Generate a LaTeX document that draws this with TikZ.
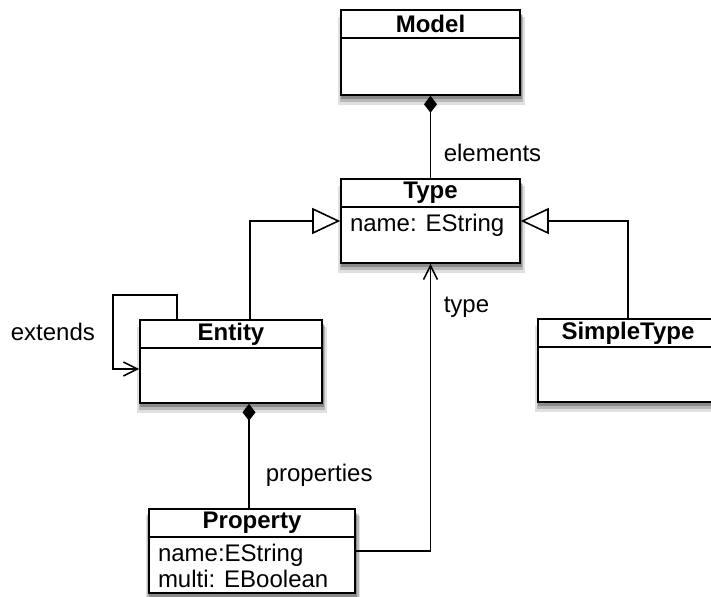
\documentclass[tikz,border=0pt]{standalone}
\usepackage{fontspec}
\setmainfont{Liberation Sans}
\usetikzlibrary{arrows.meta,shadows}

\begin{document}
\begin{tikzpicture}[x=0.5pt,y=-0.5pt,line width=0.8pt,
    font=\fontsize{12}{13}\selectfont,
    softshadow/.style={
      general shadow={fill=black,opacity=0.12,shadow xshift=0.5pt,shadow yshift=-4pt,shadow scale=1.04},
      general shadow={fill=black,opacity=0.18,shadow xshift=0.5pt,shadow yshift=-3pt,shadow scale=1.025},
      general shadow={fill=black,opacity=0.25,shadow xshift=0.5pt,shadow yshift=-2pt,shadow scale=1.01}},
    box/.style={draw,fill=white,inner sep=0pt,softshadow},
    head/.style={draw,anchor=north,minimum height=14pt,inner sep=0pt,font=\fontsize{12}{13}\selectfont\bfseries},
    attr/.style={anchor=north west,align=left,inner xsep=4.5pt,inner ysep=3pt},
    lbl/.style={anchor=base west,inner sep=0pt},
    comp/.style={-{Diamond[length=8.5pt,width=6.5pt]}},
    gen/.style={-{Triangle[open,length=14pt,width=13pt]}},
    assoc/.style={-{Straight Barb[length=7pt,width=7pt]}}]
    \clip (0,0) rectangle (711,597);
    % classes
    \node at (430.5,52.5) [box,minimum width=89.5pt,minimum height=42.5pt] (model) {};
    \node at (model.north) [head,minimum width=89.5pt] (modelhead) {Model};
    \node at (430.5,221) [box,minimum width=89.5pt,minimum height=42pt] (type) {};
    \node at (type.north) [head,minimum width=89.5pt] (typehead) {Type};
    \node at (typehead.south west) [attr] (typeattr) {name: EString};
    \node at (231,361.5) [box,minimum width=91pt,minimum height=41.5pt] (entity) {};
    \node at (entity.north) [head,minimum width=91pt] (entityhead) {Entity};
    \node at (628,360.5) [box,minimum width=90pt,minimum height=41.5pt] (simpletype) {};
    \node at (simpletype.north) [head,minimum width=90pt] (simpletypehead) {SimpleType};
    \node at (252,551) [box,minimum width=103pt,minimum height=42pt] (property) {};
    \node at (property.north) [head,minimum width=103pt] (propertyhead) {Property};
    \node at (propertyhead.south west) [attr] (propertyattr) {name:EString\\multi: EBoolean};
    % relations
    \draw[comp] (type.north) -- (model.south);
    \draw[gen] ([xshift=9.5pt]entity.north) |- (type.west);
    \draw[gen] (simpletype.north) |- (type.east);
    \draw[assoc] (property.east) -| (type.south);
    \draw[assoc] ([xshift=-27pt]entity.north) |- (113,295) |- ([yshift=-3.75pt]entity.west);
    \draw[comp] ([xshift=-1.5pt]property.north) -- ([xshift=9pt]entity.south);
    % role names
    \node at (443,162) [lbl] (elementslbl) {elements};
    \node at (443,313) [lbl] (typelbl) {type};
    \node at (10,341) [lbl] (extendslbl) {extends};
    \node at (265,482) [lbl] (propertieslbl) {properties};
\end{tikzpicture}
\end{document}
